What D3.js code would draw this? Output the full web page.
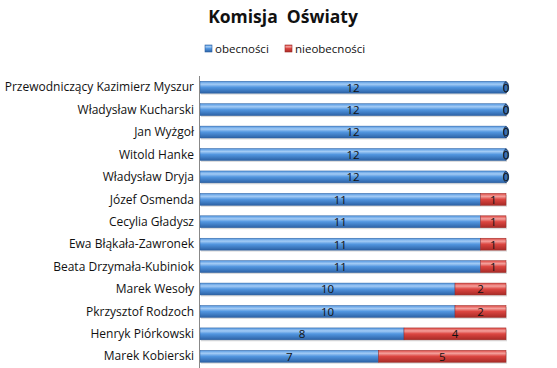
<!DOCTYPE html>
<meta charset="utf-8">
<style>
    body { margin: 0; background: #fff; }
    text { font-family: "Open Sans", sans-serif; fill: #111; }
</style>
<body>
<script src="https://d3js.org/d3.v7.min.js"></script>
<script>
    var names = ["Przewodniczący Kazimierz Myszur", "Władysław Kucharski", "Jan Wyżgoł", "Witold Hanke",
        "Władysław Dryja", "Józef Osmenda", "Cecylia Gładysz", "Ewa Błąkała-Zawronek",
        "Beata Drzymała-Kubiniok", "Marek Wesoły", "Pkrzysztof Rodzoch", "Henryk Piórkowski", "Marek Kobierski"];
    var obecnosci = [12, 12, 12, 12, 12, 11, 11, 11, 11, 10, 10, 8, 7];
    var nieobecnosci = [0, 0, 0, 0, 0, 1, 1, 1, 1, 2, 2, 4, 5];
    var seriesNames = ["obecności", "nieobecności"];

    var W = 557, H = 368;
    var margin = {top: 76, right: 51, bottom: 0, left: 200},
        width = W - margin.left - margin.right,
        height = H - margin.top - margin.bottom;

    var svg = d3.select("body").append("svg")
        .attr("width", W)
        .attr("height", H);

    var defs = svg.append("defs");
    function grad(id, top, mid, bot) {
        var g = defs.append("linearGradient").attr("id", id)
            .attr("x1", 0).attr("y1", 0).attr("x2", 0).attr("y2", 1);
        g.append("stop").attr("offset", "0%").attr("stop-color", mid);
        g.append("stop").attr("offset", "25%").attr("stop-color", top);
        g.append("stop").attr("offset", "50%").attr("stop-color", mid);
        g.append("stop").attr("offset", "100%").attr("stop-color", bot);
    }
    grad("gBlue", "#a3cbf5", "#5296e0", "#2c62a6");
    grad("gRed", "#f4a19d", "#dc4641", "#a82a26");

    var g = svg.append("g")
        .attr("transform", "translate(" + margin.left + "," + margin.top + ")");

    var x = d3.scaleLinear().domain([0, 12]).range([0, 306]);
    var y = d3.scaleBand().domain(names).range([0, height - 0.5]).paddingInner(0.47).paddingOuter(0.235);

    // title
    svg.append("text")
        .attr("x", 283).attr("y", 23)
        .attr("text-anchor", "middle")
        .style("font-weight", "bold")
        .style("font-size", "17.5px")
        .attr("xml:space", "preserve")
        .text("Komisja  Oświaty");

    // legend
    var legend = svg.append("g").attr("transform", "translate(205,49)");
    var lx = [0, 80];
    seriesNames.forEach(function(s, i) {
        var row = legend.append("g").attr("transform", "translate(" + lx[i] + ",0)");
        row.append("rect").attr("x", 0).attr("y", -4).attr("width", 7).attr("height", 7)
            .attr("fill", i === 0 ? "url(#gBlue)" : "url(#gRed)")
            .attr("stroke", i === 0 ? "#2c5f9e" : "#9a2a26").attr("stroke-width", 0.6);
        row.append("text").attr("x", 10).attr("y", 4)
            .style("font-size", "11.5px").text(s);
    });

    // y axis labels
    g.selectAll(".lbl").data(names).enter().append("text")
        .attr("class", "lbl")
        .attr("x", -6)
        .attr("y", d => y(d) + y.bandwidth() / 2)
        .attr("dy", "0.35em")
        .attr("text-anchor", "end")
        .style("font-size", "12px")
        .text(d => d);

    var rows = names.map(function(n, i) { return {name: n, a: obecnosci[i], b: nieobecnosci[i]}; });

    // shadows
    g.selectAll(".shadow").data(rows).enter().append("rect")
        .attr("x", 1)
        .attr("y", d => y(d.name) + 1.5)
        .attr("width", d => x(d.a + d.b))
        .attr("height", y.bandwidth())
        .attr("fill", "#999").attr("opacity", 0.35);

    g.selectAll(".barA").data(rows).enter().append("rect")
        .attr("x", 0)
        .attr("y", d => y(d.name))
        .attr("width", d => x(d.a))
        .attr("height", y.bandwidth())
        .attr("fill", "url(#gBlue)")
        .attr("stroke", "#2c5f9e").attr("stroke-width", 0.5);

    g.selectAll(".barB").data(rows.filter(d => d.b > 0)).enter().append("rect")
        .attr("x", d => x(d.a))
        .attr("y", d => y(d.name))
        .attr("width", d => x(d.b))
        .attr("height", y.bandwidth())
        .attr("fill", "url(#gRed)")
        .attr("stroke", "#9a2a26").attr("stroke-width", 0.5);

    // zero caps
    g.selectAll(".cap").data(rows.filter(d => d.b === 0)).enter().append("ellipse")
        .attr("cx", d => x(d.a))
        .attr("cy", d => y(d.name) + y.bandwidth() / 2)
        .attr("rx", 2.5).attr("ry", y.bandwidth() / 2 - 0.5)
        .attr("fill", "#3a6fb0").attr("stroke", "#1d3557").attr("stroke-width", 0.8);

    // value labels
    g.selectAll(".va").data(rows).enter().append("text")
        .attr("x", d => x(d.a / 2))
        .attr("y", d => y(d.name) + y.bandwidth() / 2)
        .attr("dy", "0.38em")
        .attr("text-anchor", "middle")
        .style("font-size", "11.5px")
        .text(d => d.a);
    g.selectAll(".vb").data(rows).enter().append("text")
        .attr("x", d => x(d.a + d.b / 2))
        .attr("y", d => y(d.name) + y.bandwidth() / 2)
        .attr("dy", "0.38em")
        .attr("text-anchor", "middle")
        .style("font-size", "11.5px")
        .text(d => d.b);

    // axis line
    g.append("line")
        .attr("x1", -0.5).attr("x2", -0.5)
        .attr("y1", 0).attr("y2", height)
        .attr("stroke", "#888").attr("stroke-width", 1);
</script>
</body>
</html>
